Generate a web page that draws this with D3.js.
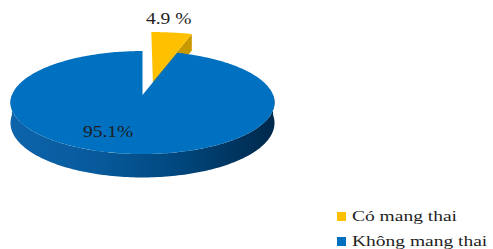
<!DOCTYPE html>
<html>
<head>
<meta charset="utf-8">
<script src="https://cdn.jsdelivr.net/npm/d3@7"></script>
<style>
  body { margin: 0; background: #fff; }
  svg { display: block; }
  text { font-family: "Liberation Serif", "Times New Roman", serif; fill: #1e1e1e; }
</style>
</head>
<body>
<div id="chart"></div>
<script>
const width = 493;
const height = 249;

// Data
const categories = ["Có mang thai", "Không mang thai"];
const values = [4.9, 95.1];
const valueLabels = ["4.9 %", "95.1%"];
const topColors = ["#ffc000", "#0070c0"];
const sideColors = ["#c99a00", "url(#blueSide)"];

const svg = d3.select("#chart").append("svg").attr("width", width).attr("height", height);

// Gradient for the blue rim
const grad = svg.append("defs").append("linearGradient").attr("id", "blueSide")
  .attr("gradientUnits", "userSpaceOnUse").attr("x1", 10).attr("x2", 275).attr("y1", 0).attr("y2", 0);
[[0, "#0d64ab"], [0.35, "#07599a"], [0.65, "#00467c"], [1, "#00284b"]].forEach(s =>
  grad.append("stop").attr("offset", s[0]).attr("stop-color", s[1]));

// 3D projection of the pie disk (u right, v toward viewer, z down)
const cx = 142.5, cy = 95, rx = 130.6, ry = 50.4, persp = 0.146, depth = 20;
function project(u, v, z) {
  const k = 1 - persp * v;
  return [cx + rx * u / k, cy + (ry * v + depth * z) / k];
}

const pie = d3.pie().sort(null).value(d => d)(values);

// Exploded slice: pushed back and drawn bigger, as in the picture
const explode = [0.3, 0];
const explodeDir = [16 * Math.PI / 180, 0];
const radius = [1.24, 1];

function diskPt(i, a, r) {
  const ox = explode[i] * Math.sin(explodeDir[i]);
  const oy = -explode[i] * Math.cos(explodeDir[i]);
  return [ox + r * radius[i] * Math.sin(a), oy - r * radius[i] * Math.cos(a)];
}

function arcPts(i, a0, a1, z) {
  const n = Math.max(2, Math.ceil((a1 - a0) / 0.02));
  return d3.range(n + 1).map(j => {
    const a = a0 + (a1 - a0) * j / n;
    const p = diskPt(i, a, 1);
    return project(p[0], p[1], z);
  });
}

const line = d3.line();

// Draw back slice (yellow) first, then the blue one
[0, 1].forEach(i => {
  const d = pie[i];
  const c = diskPt(i, 0, 0);
  const g = svg.append("g");

  // rim (front part only)
  const r0 = Math.max(d.startAngle, Math.PI / 2), r1 = Math.min(d.endAngle, 3 * Math.PI / 2);
  if (r1 > r0) {
    const top = arcPts(i, r0, r1, 0), bot = arcPts(i, r0, r1, 1).reverse();
    g.append("path").attr("d", line(top.concat(bot)) + "Z").attr("fill", sideColors[i]);
  }

  // radial cut face at the end angle (visible for the exploded slice)
  if (i === 0) {
    const e = diskPt(i, d.endAngle, 1);
    const face = [project(c[0], c[1], 0), project(e[0], e[1], 0), project(e[0], e[1], 1), project(c[0], c[1], 1)];
    g.append("path").attr("d", line(face) + "Z").attr("fill", sideColors[i]);
  }

  // top face
  const topFace = [project(c[0], c[1], 0)].concat(arcPts(i, d.startAngle, d.endAngle, 0));
  g.append("path").attr("d", line(topFace) + "Z").attr("fill", topColors[i]);
});

// Value labels
const labelPos = [[146, 24], [83, 137]];
valueLabels.forEach((t, i) => {
  svg.append("text").attr("transform", `translate(${labelPos[i][0]},${labelPos[i][1]}) scale(1.22,1)`)
    .attr("font-size", 16).text(t);
});

// Legend
const legend = svg.append("g").attr("transform", "translate(337,212)");
categories.forEach((name, i) => {
  const row = legend.append("g").attr("transform", `translate(0,${i * 25})`);
  row.append("rect").attr("width", 9).attr("height", 9).attr("fill", topColors[i]);
  row.append("text").attr("transform", "translate(15,9) scale(1.3,1)").attr("font-size", 15).text(name);
});
</script>
</body>
</html>
